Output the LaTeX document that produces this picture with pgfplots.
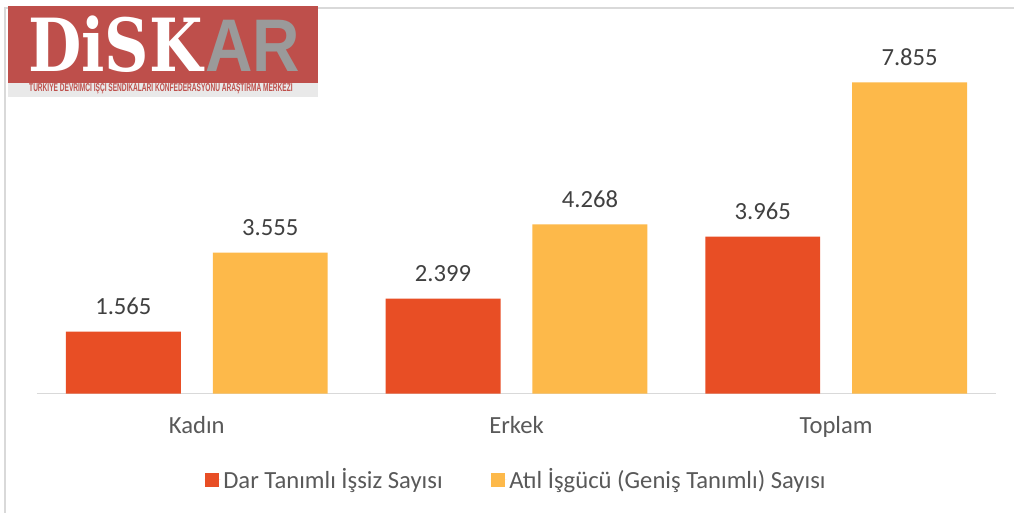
\documentclass[border=0pt]{standalone}
\usepackage{pgfplots}
\pgfplotsset{compat=1.18}
\usepackage{fontspec}
\setmainfont{Carlito}
\newfontfamily\logoserif{DejaVu Serif}
\newfontfamily\logosans{Liberation Sans}
\definecolor{darred}{HTML}{E84E25}
\definecolor{atilyel}{HTML}{FDB94A}
\definecolor{txtgray}{HTML}{595959}
\definecolor{lblgray}{HTML}{404040}
\definecolor{gridgray}{HTML}{D9D9D9}
\definecolor{logored}{HTML}{BE4F4B}
\definecolor{logogray}{HTML}{9A9A9A}
\definecolor{stripgray}{HTML}{E9E9E9}

\begin{document}
\begin{tikzpicture}
% page and frame, 1px = 0.75pt
\begin{scope}[x=0.75pt,y=-0.75pt]
  \fill[white] (0,0) rectangle (1015,513);
  \draw[gridgray, line width=1.5pt] (5,513) -- (5,8) -- (1015,8);
\end{scope}

\begin{axis}[
    at={(27.75pt,-295.5pt)}, anchor=south west,
    scale only axis,
    width=720pt, height=267.75pt,
    xmin=-0.5, xmax=2.5,
    ymin=0, ymax=9,
    ybar=24pt,
    bar width=86.25pt,
    axis x line*=bottom,
    axis y line=none,
    x axis line style={gridgray, line width=1pt, -},
    xtick={0,1,2},
    xticklabels={Kadın, Erkek, Toplam},
    xtick style={draw=none},
    xticklabel style={font=\fontsize{18.5}{20}\selectfont, text=txtgray, yshift=-9pt},
    nodes near coords,
    every node near coord/.append style={font=\fontsize{18.5}{20}\selectfont, text=lblgray, yshift=9pt,
      /pgf/number format/.cd, fixed, fixed zerofill, precision=3, assume math mode=true},
    legend style={at={(0.5,-0.241)}, anchor=center, draw=none, fill=none,
      font=\fontsize{18.5}{20}\selectfont, text=txtgray,
      legend columns=2, /tikz/every even column/.append style={column sep=34pt}},
    legend image code/.code={\fill[#1] (0pt,-5.25pt) rectangle (10.5pt,5.25pt);
      \path (0pt,0pt) -- (12pt,0pt);},
]
\addplot[fill=darred, draw=none] coordinates {(0,1.565) (1,2.399) (2,3.965)};
\addplot[fill=atilyel, draw=none] coordinates {(0,3.555) (1,4.268) (2,7.855)};
\legend{Dar Tanımlı İşsiz Sayısı, Atıl İşgücü (Geniş Tanımlı) Sayısı}
\end{axis}

% logo
\begin{scope}[x=0.75pt,y=-0.75pt]
  \fill[logored] (8,6) rectangle (318,83);
  \fill[stripgray] (8,83) rectangle (318,97);
  \node[anchor=base west, inner sep=0, text depth=0pt, text=white] at (28,72)
    {\scalebox{0.84}[1]{\fontsize{55}{55}\logoserif\bfseries DiSK}};
  \node[anchor=base west, inner sep=0, text depth=0pt, text=logogray] at (205,72)
    {\scalebox{0.88}[1]{\fontsize{56}{56}\logosans\bfseries AR}};
  \node[anchor=base west, inner sep=0, text=logored] at (29,92)
    {\scalebox{0.58}[1]{\fontsize{8.5}{8.5}\logosans\bfseries TÜRKIYE DEVRIMCI IŞÇI SENDIKALARI KONFEDERASYONU ARAŞTIRMA MERKEZI}};
\end{scope}
\end{tikzpicture}
\end{document}
